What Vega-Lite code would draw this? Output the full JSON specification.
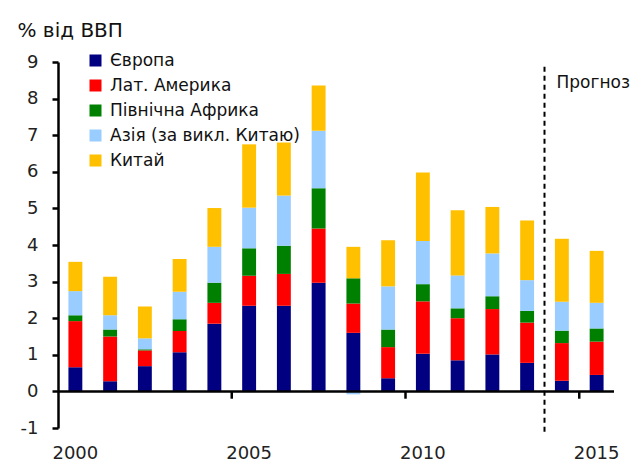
{
  "$schema": "https://vega.github.io/schema/vega-lite/v6.json",
  "width": 556,
  "height": 366,
  "autosize": "none",
  "padding": {"left": 58, "top": 62, "right": 18, "bottom": 46},
  "background": "white",
  "config": {"font": "DejaVu Sans", "view": {"stroke": null}},
  "datasets": {
    "bars": [
      {"year": 2000, "region": "Європа", "value": 0.66}, {"year": 2000, "region": "Лат. Америка", "value": 1.26}, {"year": 2000, "region": "Північна Африка", "value": 0.16}, {"year": 2000, "region": "Азія (за викл. Китаю)", "value": 0.66}, {"year": 2000, "region": "Китай", "value": 0.80},
      {"year": 2001, "region": "Європа", "value": 0.28}, {"year": 2001, "region": "Лат. Америка", "value": 1.22}, {"year": 2001, "region": "Північна Африка", "value": 0.19}, {"year": 2001, "region": "Азія (за викл. Китаю)", "value": 0.39}, {"year": 2001, "region": "Китай", "value": 1.05},
      {"year": 2002, "region": "Європа", "value": 0.69}, {"year": 2002, "region": "Лат. Америка", "value": 0.43}, {"year": 2002, "region": "Північна Африка", "value": 0.03}, {"year": 2002, "region": "Азія (за викл. Китаю)", "value": 0.30}, {"year": 2002, "region": "Китай", "value": 0.87},
      {"year": 2003, "region": "Європа", "value": 1.07}, {"year": 2003, "region": "Лат. Америка", "value": 0.58}, {"year": 2003, "region": "Північна Африка", "value": 0.32}, {"year": 2003, "region": "Азія (за викл. Китаю)", "value": 0.75}, {"year": 2003, "region": "Китай", "value": 0.90},
      {"year": 2004, "region": "Європа", "value": 1.85}, {"year": 2004, "region": "Лат. Америка", "value": 0.57}, {"year": 2004, "region": "Північна Африка", "value": 0.55}, {"year": 2004, "region": "Азія (за викл. Китаю)", "value": 0.98}, {"year": 2004, "region": "Китай", "value": 1.06},
      {"year": 2005, "region": "Європа", "value": 2.34}, {"year": 2005, "region": "Лат. Америка", "value": 0.82}, {"year": 2005, "region": "Північна Африка", "value": 0.75}, {"year": 2005, "region": "Азія (за викл. Китаю)", "value": 1.11}, {"year": 2005, "region": "Китай", "value": 1.73},
      {"year": 2006, "region": "Європа", "value": 2.34}, {"year": 2006, "region": "Лат. Америка", "value": 0.87}, {"year": 2006, "region": "Північна Африка", "value": 0.77}, {"year": 2006, "region": "Азія (за викл. Китаю)", "value": 1.37}, {"year": 2006, "region": "Китай", "value": 1.45},
      {"year": 2007, "region": "Європа", "value": 2.97}, {"year": 2007, "region": "Лат. Америка", "value": 1.48}, {"year": 2007, "region": "Північна Африка", "value": 1.10}, {"year": 2007, "region": "Азія (за викл. Китаю)", "value": 1.57}, {"year": 2007, "region": "Китай", "value": 1.24},
      {"year": 2008, "region": "Європа", "value": 1.60}, {"year": 2008, "region": "Лат. Америка", "value": 0.80}, {"year": 2008, "region": "Північна Африка", "value": 0.69}, {"year": 2008, "region": "Азія (за викл. Китаю)", "value": -0.08}, {"year": 2008, "region": "Китай", "value": 0.86},
      {"year": 2009, "region": "Європа", "value": 0.36}, {"year": 2009, "region": "Лат. Америка", "value": 0.85}, {"year": 2009, "region": "Північна Африка", "value": 0.48}, {"year": 2009, "region": "Азія (за викл. Китаю)", "value": 1.18}, {"year": 2009, "region": "Китай", "value": 1.26},
      {"year": 2010, "region": "Європа", "value": 1.03}, {"year": 2010, "region": "Лат. Америка", "value": 1.43}, {"year": 2010, "region": "Північна Африка", "value": 0.47}, {"year": 2010, "region": "Азія (за викл. Китаю)", "value": 1.18}, {"year": 2010, "region": "Китай", "value": 1.87},
      {"year": 2011, "region": "Європа", "value": 0.85}, {"year": 2011, "region": "Лат. Америка", "value": 1.15}, {"year": 2011, "region": "Північна Африка", "value": 0.27}, {"year": 2011, "region": "Азія (за викл. Китаю)", "value": 0.90}, {"year": 2011, "region": "Китай", "value": 1.78},
      {"year": 2012, "region": "Європа", "value": 1.01}, {"year": 2012, "region": "Лат. Америка", "value": 1.24}, {"year": 2012, "region": "Північна Африка", "value": 0.35}, {"year": 2012, "region": "Азія (за викл. Китаю)", "value": 1.17}, {"year": 2012, "region": "Китай", "value": 1.27},
      {"year": 2013, "region": "Європа", "value": 0.78}, {"year": 2013, "region": "Лат. Америка", "value": 1.10}, {"year": 2013, "region": "Північна Африка", "value": 0.32}, {"year": 2013, "region": "Азія (за викл. Китаю)", "value": 0.84}, {"year": 2013, "region": "Китай", "value": 1.63},
      {"year": 2014, "region": "Європа", "value": 0.29}, {"year": 2014, "region": "Лат. Америка", "value": 1.03}, {"year": 2014, "region": "Північна Африка", "value": 0.34}, {"year": 2014, "region": "Азія (за викл. Китаю)", "value": 0.79}, {"year": 2014, "region": "Китай", "value": 1.72},
      {"year": 2015, "region": "Європа", "value": 0.45}, {"year": 2015, "region": "Лат. Америка", "value": 0.91}, {"year": 2015, "region": "Північна Африка", "value": 0.36}, {"year": 2015, "region": "Азія (за викл. Китаю)", "value": 0.70}, {"year": 2015, "region": "Китай", "value": 1.42}
    ],
    "tickyears": [{"year": 2005}, {"year": 2010}, {"year": 2015}]
  },
  "layer": [
    {
      "data": {"name": "bars"},
      "transform": [
        {"calculate": "indexof(['Європа','Лат. Америка','Північна Африка','Азія (за викл. Китаю)','Китай'], datum.region)", "as": "rank"}
      ],
      "mark": {"type": "bar", "width": {"band": 0.4}},
      "encoding": {
        "x": {
          "field": "year", "type": "ordinal",
          "scale": {"paddingInner": 0, "paddingOuter": 0},
          "axis": {"values": [2000, 2005, 2010, 2015], "domain": false, "ticks": false, "labelAngle": 0, "labelFontSize": 18, "labelColor": "#222", "labelPadding": 16, "title": null}
        },
        "y": {
          "field": "value", "type": "quantitative", "stack": "zero",
          "scale": {"domain": [-1, 9], "nice": false, "zero": false},
          "axis": {
            "values": [-1, 0, 1, 2, 3, 4, 5, 6, 7, 8, 9], "tickCount": 20, "grid": false,
            "labelOverlap": false, "labelExpr": "'' + datum.value",
            "domain": true, "domainColor": "black", "domainWidth": 2.5,
            "ticks": true, "tickColor": "black", "tickWidth": 2.5, "tickSize": 6,
            "labelFontSize": 18, "labelColor": "#222", "labelPadding": 14,
            "title": "% від ВВП", "titleAngle": 0, "titleAlign": "left", "titleBaseline": "middle",
            "titleX": -41, "titleY": -32, "titleFontSize": 20, "titleFontWeight": "normal", "titleColor": "#111"
          }
        },
        "color": {
          "field": "region", "type": "nominal",
          "scale": {
            "domain": ["Європа", "Лат. Америка", "Північна Африка", "Азія (за викл. Китаю)", "Китай"],
            "range": ["#000080", "#FF0000", "#008000", "#99CCFF", "#FFC000"]
          },
          "legend": {
            "orient": "none", "legendX": 29, "legendY": -10, "title": null,
            "symbolType": "square", "symbolSize": 144, "symbolStrokeWidth": 0,
            "labelFontSize": 17, "labelColor": "#111", "labelLimit": 400, "rowPadding": 7, "labelOffset": 6, "padding": 0
          }
        },
        "order": {"field": "rank", "type": "quantitative"}
      }
    },
    {
      "data": {"values": [{}]},
      "mark": {"type": "rule", "color": "black", "strokeWidth": 2.5},
      "encoding": {"y": {"datum": 0, "type": "quantitative"}}
    },
    {
      "data": {"name": "tickyears"},
      "mark": {"type": "rule", "color": "black", "strokeWidth": 2.5},
      "encoding": {
        "x": {"field": "year", "type": "ordinal", "bandPosition": 0},
        "y": {"datum": 0, "type": "quantitative"},
        "y2": {"datum": -0.2}
      }
    },
    {
      "data": {"values": [{}]},
      "mark": {"type": "rule", "color": "black", "strokeWidth": 2, "strokeDash": [5, 4]},
      "encoding": {
        "x": {"datum": 2014, "type": "ordinal", "bandPosition": 0},
        "y": {"datum": 8.87, "type": "quantitative"},
        "y2": {"datum": -1.13}
      }
    },
    {
      "data": {"values": [{}]},
      "mark": {"type": "text", "text": "Прогноз", "align": "left", "baseline": "middle", "dx": 12, "fontSize": 17, "color": "#111"},
      "encoding": {
        "x": {"datum": 2014, "type": "ordinal", "bandPosition": 0},
        "y": {"datum": 8.43, "type": "quantitative"}
      }
    }
  ]
}
